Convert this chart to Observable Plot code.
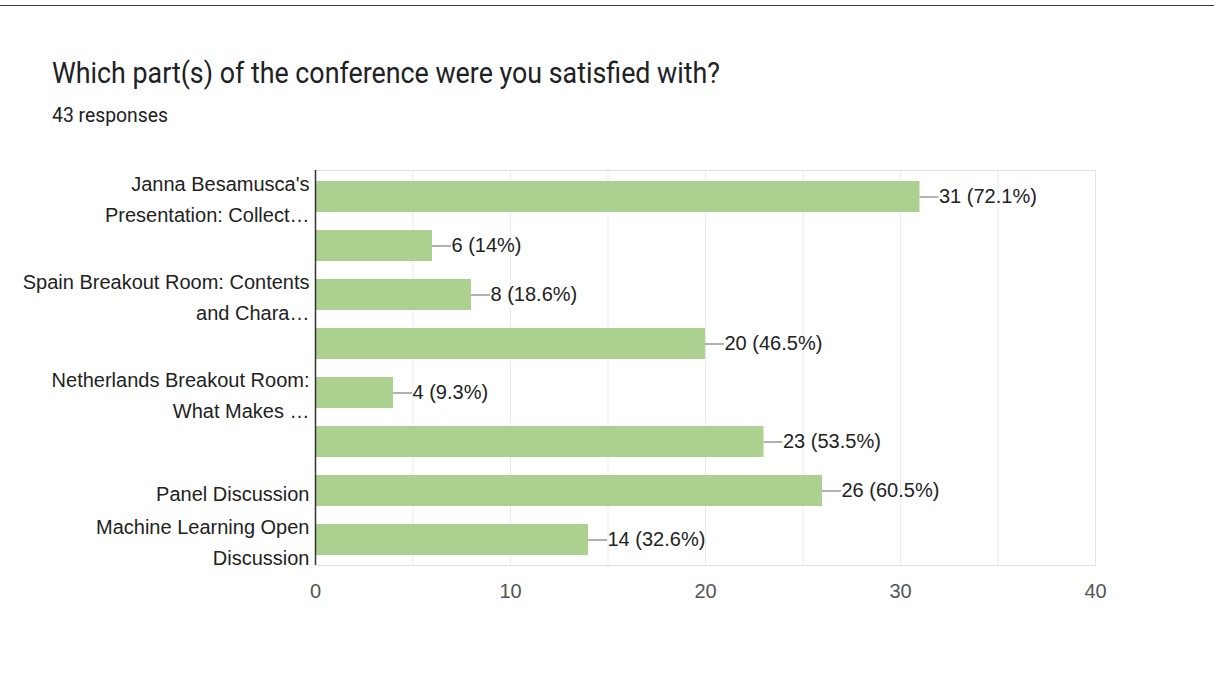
<!DOCTYPE html>
<html>
<head>
<meta charset="utf-8">
<script src="https://cdn.jsdelivr.net/npm/d3@7"></script>
<script src="https://cdn.jsdelivr.net/npm/@observablehq/plot@0.6"></script>
<style>
  html, body { margin: 0; padding: 0; background: #fff; }
  #wrap { position: relative; width: 1214px; height: 674px; background: #fff; overflow: hidden; }
  #topline { position: absolute; left: 0; top: 5px; width: 1214px; height: 0; border-top: 1px solid #3a3a3a; }
  .t { position: absolute; left: 52px; white-space: nowrap; transform-origin: 0 0; color: #202124; font-family: Roboto, "Liberation Sans", Arial, sans-serif; }
  #title { top: 55px; font-size: 30px; }
  #subtitle { top: 103px; font-size: 21px; }
  #chart { position: absolute; left: 0; top: 140px; }
</style>
</head>
<body>
<div id="wrap">
  <div id="topline"></div>
  <div id="title" class="t">Which part(s) of the conference were you satisfied with?</div>
  <div id="subtitle" class="t">43 responses</div>
  <div id="chart"></div>
</div>
<script>
const categories = [
  "Janna Besamusca's\nPresentation: Collect…",
  "",
  "Spain Breakout Room: Contents\nand Chara…",
  "",
  "Netherlands Breakout Room:\nWhat Makes …",
  "",
  "Panel Discussion",
  "Machine Learning Open\nDiscussion"
];
const counts = [31, 6, 8, 20, 4, 23, 26, 14];
const percents = ["72.1%", "14%", "18.6%", "46.5%", "9.3%", "53.5%", "60.5%", "32.6%"];
const xTickLabels = [0, 10, 20, 30, 40];
const gridTicks = [0, 5, 10, 15, 20, 25, 30, 35, 40];

const data = categories.map((c, i) => ({i, label: c, count: counts[i], pct: percents[i]}));

// fit title widths to the reference's condensed look
function fit(id, target) {
  const el = document.getElementById(id);
  const w = el.getBoundingClientRect().width;
  el.style.transform = `scaleX(${target / w})`;
}
fit("title", 668);
fit("subtitle", 116);

const chart = Plot.plot({
  width: 1214,
  height: 534,
  marginLeft: 315,
  marginRight: 119,
  marginTop: 30,
  marginBottom: 109,
  style: {fontFamily: "'Liberation Sans', Arial, sans-serif", fontSize: "20px", background: "#fff", overflow: "visible"},
  x: {domain: [0, 40]},
  y: {type: "band", domain: d3.range(categories.length), paddingInner: 0.37, paddingOuter: 0.2},
  marks: [
    Plot.gridX(gridTicks, {stroke: "#ebebeb", strokeOpacity: 1}),
    Plot.frame({stroke: "#e2e2e2"}),
    Plot.barX(data, {x: "count", y: "i", fill: "#abd08f"}),
    Plot.ruleX([0], {stroke: "#333", strokeWidth: 1.5}),
    Plot.axisX(xTickLabels, {tickSize: 0, tickPadding: 18, fill: "#555", fontSize: 20, label: null}),
    Plot.axisY({tickSize: 0, tickPadding: 6, tickFormat: i => categories[i], lineHeight: 1.55, fill: "#222", fontSize: 20, label: null}),
    Plot.ruleY(data, {x1: "count", x2: "count", y: "i", insetRight: -19, stroke: "#999", strokeWidth: 1.5}),
    Plot.text(data, {x: "count", y: "i", text: d => `${d.count} (${d.pct})`, textAnchor: "start", dx: 19, fill: "#222", fontSize: 20})
  ]
});
document.getElementById("chart").appendChild(chart);
</script>
</body>
</html>
